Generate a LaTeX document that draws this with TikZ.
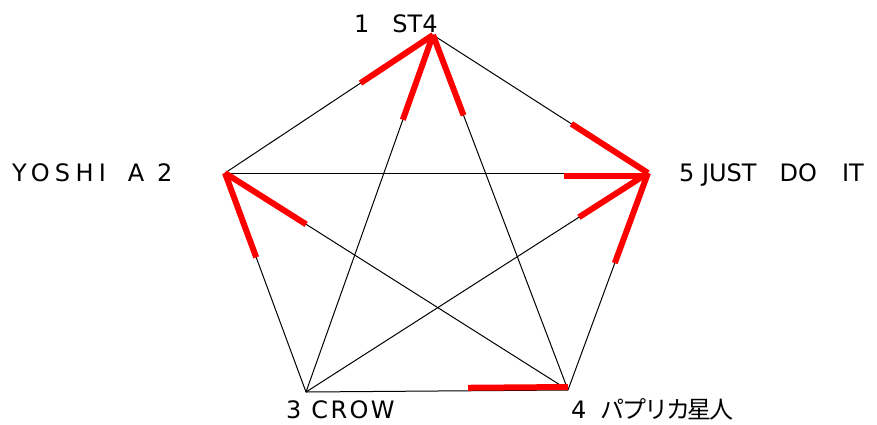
\documentclass[tikz,border=0pt]{standalone}
\usepackage{fontspec}
\setmainfont{DejaVu Sans}
\newfontfamily\jp{Noto Sans CJK JP}
\usetikzlibrary{calc}
\begin{document}
\begin{tikzpicture}[x=1pt,y=-1pt,
  edge/.style={line width=1pt,black},
  hi/.style={line width=6pt,red},
  lbl/.style={font=\fontsize{24}{24}\selectfont, inner sep=0pt, text depth=0pt, anchor=base west}]
\useasboundingbox (0,0) rectangle (877,424);
\coordinate (T) at (433,35);
\coordinate (L) at (225,173);
\coordinate (R) at (648,173);
\coordinate (BL) at (306,392);
\coordinate (BR) at (568,390);
% edges
\draw[edge] (T) -- (L);
\draw[edge] (T) -- (R);
\draw[edge] (T) -- (BL);
\draw[edge] (T) -- (BR);
\draw[edge] (L) -- (R);
\draw[edge] (L) -- (BL);
\draw[edge] (L) -- (BR);
\draw[edge] (R) -- (BL);
\draw[edge] (R) -- (BR);
\draw[edge] (BL) -- (BR);
% highlighted ends
\draw[hi] (T) -- ($(T)!87pt!(L)$);
\draw[hi] (T) -- ($(T)!90pt!(BL)$);
\draw[hi] (T) -- ($(T)!86pt!(BR)$);
\draw[hi] (L) -- ($(L)!90pt!(BL)$);
\draw[hi] (L) -- ($(L)!96pt!(BR)$);
\draw[hi] (R) -- ($(R)!91pt!(T)$);
\draw[hi] ([yshift=-3pt]R) -- ($([yshift=-3pt]R)!84pt!([yshift=-3pt]L)$);
\draw[hi] (R) -- ($(R)!82pt!(BL)$);
\draw[hi] (R) -- ($(R)!96pt!(BR)$);
\draw[hi] ([yshift=3pt]BR) -- ($([yshift=3pt]BR)!100pt!([yshift=3pt]BL)$);
% labels
\node[lbl] (lT) at (354,32) {1\hspace{23pt}ST4};
\node[lbl] (lL) at (12,181) {\addfontfeature{LetterSpace=22}YOSHI\hspace{22pt}A 2};
\node[lbl] (lR) at (679,181) {5 JUST\hspace{23pt}DO\hspace{25pt}IT};
\node[lbl] (lBL) at (286,418) {\addfontfeature{LetterSpace=10}3 CROW};
\node[lbl] (lBR) at (571,418) {4\hspace{14pt}{\jp\fontsize{24}{24}\selectfont\addfontfeature{LetterSpace=-9}パプリカ星人}};
\end{tikzpicture}
\end{document}
